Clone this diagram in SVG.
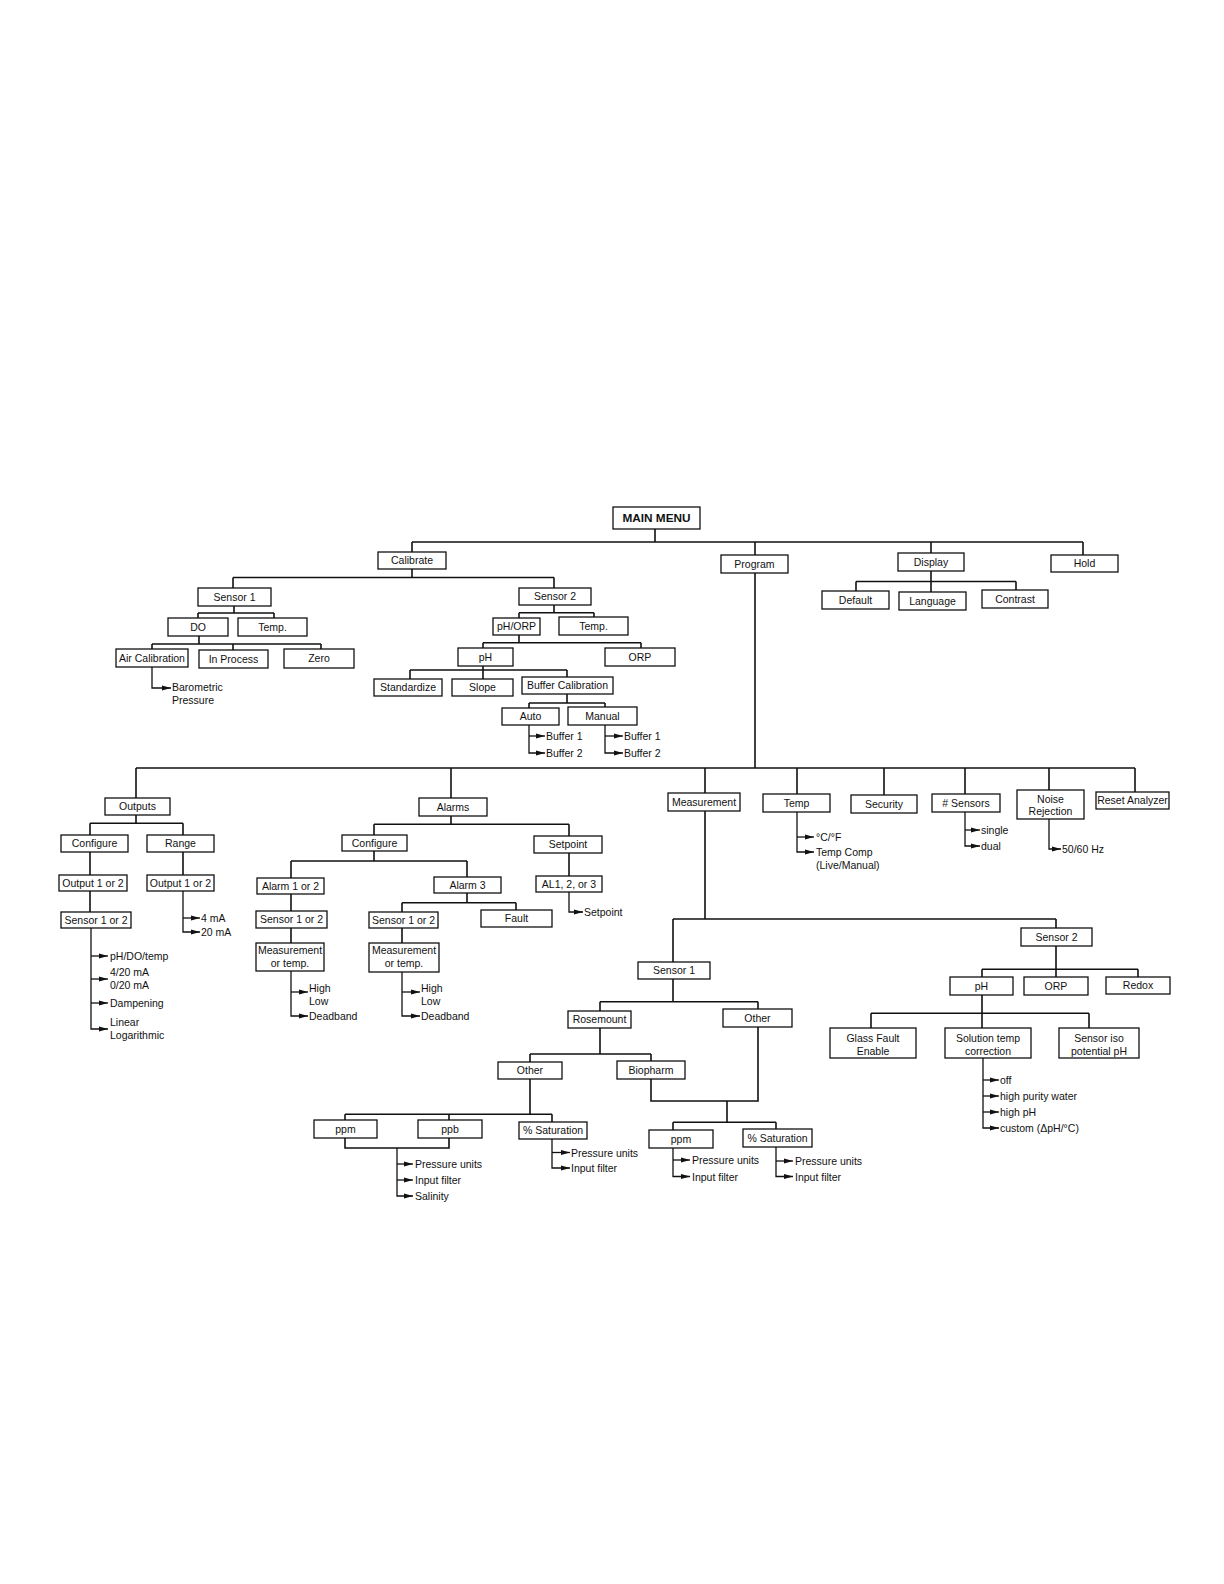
<svg xmlns="http://www.w3.org/2000/svg" width="1224" height="1584" viewBox="0 0 1224 1584">
<style>
.b{fill:#fff;stroke:#111;stroke-width:1.3}
.t{font-family:"Liberation Sans",Arial,sans-serif;font-size:10.5px;fill:#111;text-anchor:middle}
.l{font-family:"Liberation Sans",Arial,sans-serif;font-size:10.5px;fill:#111;text-anchor:start}
.c{fill:none;stroke:#111;stroke-width:1.6}
.a{fill:none;stroke:#111;stroke-width:1.3;marker-end:url(#ah)}
</style>
<defs>
<marker id="ah" markerWidth="9" markerHeight="6" refX="9" refY="3" orient="auto" markerUnits="userSpaceOnUse"><path d="M0,0.6 L9,3 L0,5.4 z" fill="#111"/></marker>
</defs>
<rect width="1224" height="1584" fill="#fff"/>
<g id="connectors">
<path class="c" d="M655,529V542M412,542H1083M412,542V552M755,542V555M931,542V553M1083,542V555"/>
<path class="c" d="M931,571V581.5M856,581.5H1016M856,581.5V591M931,581.5V592M1016,581.5V590"/>
<path class="c" d="M412,569V577.5M233,577.5H554M233,577.5V588M554,577.5V588"/>
<path class="c" d="M234,606V613M198,613H274M198,613V618M274,613V618"/>
<path class="c" d="M199,636V644M152,644H321M152,644V649M233,644V650M321,644V649"/>
<path class="a" d="M152,667V688H171"/>
<path class="c" d="M554,605V612.7M519,612.7H594M519,612.7V618M594,612.7V617"/>
<path class="c" d="M519,635V642.7M483,642.7H641M483,642.7V648M641,642.7V648"/>
<path class="c" d="M483,666V670M410,670H567M410,670V679M483,670V679M567,670V677"/>
<path class="c" d="M567,694V703M529,703H605M529,703V708M605,703V707"/>
<path class="a" d="M529,725V753H545"/><path class="a" d="M529,736H545"/>
<path class="a" d="M605,725V753H623"/><path class="a" d="M605,736H623"/>
<path class="c" d="M755,573V768M136,768H1135M136,768V798M451,768V798M705,768V793M797,768V794M884,768V795M965,768V794M1049,768V791M1135,768V792"/>
<path class="c" d="M136,815V823.3M90,823.3H183M90,823.3V835M183,823.3V835M90,852V875M183,852V875M90,891V912"/>
<path class="a" d="M183,891V932H200"/><path class="a" d="M183,918H200"/>
<path class="a" d="M91,928V1029H108"/><path class="a" d="M91,956H108"/><path class="a" d="M91,979H108"/><path class="a" d="M91,1003H108"/>
<path class="c" d="M451,816V824.3M374,824.3H569M374,824.3V835M569,824.3V836"/>
<path class="c" d="M374,851V861M291,861H467M291,861V878M467,861V877M291,894V911M291,928V943"/>
<path class="a" d="M291,971V1016H308"/><path class="a" d="M291,992H308"/>
<path class="c" d="M467,893V902.7M402,902.7H516M402,902.7V912M516,902.7V910M402,928V943"/>
<path class="a" d="M402,972V1016H420"/><path class="a" d="M402,992H420"/>
<path class="c" d="M569,853V876"/>
<path class="a" d="M569,892V912H583"/>
<path class="a" d="M797,812V852H814"/><path class="a" d="M797,837H814"/>
<path class="a" d="M965,812V846H980"/><path class="a" d="M965,830H980"/>
<path class="a" d="M1049,819V849H1061"/>
<path class="c" d="M705,811V919M673,919H1056M673,919V962M1056,919V928"/>
<path class="c" d="M673,979V1001.7M600,1001.7H758M600,1001.7V1011M758,1001.7V1009"/>
<path class="c" d="M600,1028V1054M530,1054H651M530,1054V1062M651,1054V1061"/>
<path class="c" d="M651,1079V1101H758V1027M727,1101V1122.3M673,1122.3H776M673,1122.3V1130M776,1122.3V1129"/>
<path class="c" d="M530,1079V1114.3M345,1114.3H552M345,1114.3V1120M449,1114.3V1120M552,1114.3V1122"/>
<path class="c" d="M345,1138V1148H449V1138"/>
<path class="a" d="M397,1148V1196H413"/><path class="a" d="M397,1164H413"/><path class="a" d="M397,1180H413"/>
<path class="a" d="M552,1139V1168H570"/><path class="a" d="M552,1152.5H570"/>
<path class="a" d="M673,1148V1176.5H690"/><path class="a" d="M673,1160H690"/>
<path class="a" d="M776,1147V1176.5H793"/><path class="a" d="M776,1161H793"/>
<path class="c" d="M1056,946V969.3M982,969.3H1138M982,969.3V977M1056,969.3V977M1138,969.3V977"/>
<path class="c" d="M982,995V1013.3M871,1013.3H1089M871,1013.3V1028M982,1013.3V1028M1089,1013.3V1028"/>
<path class="a" d="M983,1058V1128H999"/><path class="a" d="M983,1080H999"/><path class="a" d="M983,1096H999"/><path class="a" d="M983,1112H999"/>
</g>
<g id="labels">
<text class="l" x="172" y="691">Barometric</text><text class="l" x="172" y="704">Pressure</text>
<text class="l" x="546" y="740">Buffer 1</text><text class="l" x="546" y="757">Buffer 2</text>
<text class="l" x="624" y="740">Buffer 1</text><text class="l" x="624" y="757">Buffer 2</text>
<text class="l" x="201" y="922">4 mA</text><text class="l" x="201" y="936">20 mA</text>
<text class="l" x="110" y="960">pH/DO/temp</text><text class="l" x="110" y="975.5">4/20 mA</text><text class="l" x="110" y="988.5">0/20 mA</text>
<text class="l" x="110" y="1007">Dampening</text><text class="l" x="110" y="1025.5">Linear</text><text class="l" x="110" y="1038.5">Logarithmic</text>
<text class="l" x="309" y="991.5">High</text><text class="l" x="309" y="1004.5">Low</text><text class="l" x="309" y="1020">Deadband</text>
<text class="l" x="421" y="991.5">High</text><text class="l" x="421" y="1004.5">Low</text><text class="l" x="421" y="1020">Deadband</text>
<text class="l" x="584" y="916">Setpoint</text>
<text class="l" x="816" y="841">°C/°F</text><text class="l" x="816" y="856">Temp Comp</text><text class="l" x="816" y="869">(Live/Manual)</text>
<text class="l" x="981" y="834">single</text><text class="l" x="981" y="850">dual</text>
<text class="l" x="1062" y="853">50/60 Hz</text>
<text class="l" x="415" y="1168">Pressure units</text><text class="l" x="415" y="1184">Input filter</text><text class="l" x="415" y="1200">Salinity</text>
<text class="l" x="571" y="1156.5">Pressure units</text><text class="l" x="571" y="1172">Input filter</text>
<text class="l" x="692" y="1164">Pressure units</text><text class="l" x="692" y="1180.5">Input filter</text>
<text class="l" x="795" y="1165">Pressure units</text><text class="l" x="795" y="1180.5">Input filter</text>
<text class="l" x="1000" y="1084">off</text><text class="l" x="1000" y="1100">high purity water</text><text class="l" x="1000" y="1116">high pH</text><text class="l" x="1000" y="1132">custom (ΔpH/°C)</text>
</g>
<g id="main-menu"><rect class="b" x="613" y="507" width="87" height="22"/><text class="t" x="656.5" y="522.3" style="font-weight:bold;font-size:11.8px">MAIN MENU</text></g>
<g id="calibrate"><rect class="b" x="378" y="552" width="68" height="17"/><text class="t" x="412" y="564.3">Calibrate</text></g>
<g id="program"><rect class="b" x="721" y="555" width="67" height="18"/><text class="t" x="754.5" y="567.8">Program</text></g>
<g id="display"><rect class="b" x="898" y="553" width="66" height="18"/><text class="t" x="931" y="565.8">Display</text></g>
<g id="hold"><rect class="b" x="1051" y="555" width="67" height="17"/><text class="t" x="1084.5" y="567.3">Hold</text></g>
<g id="default"><rect class="b" x="822" y="591" width="67" height="18"/><text class="t" x="855.5" y="603.8">Default</text></g>
<g id="language"><rect class="b" x="899" y="592" width="67" height="18"/><text class="t" x="932.5" y="604.8">Language</text></g>
<g id="contrast"><rect class="b" x="982" y="590" width="66" height="18"/><text class="t" x="1015" y="602.8">Contrast</text></g>
<g id="cal-sensor1"><rect class="b" x="198" y="588" width="73" height="18"/><text class="t" x="234.5" y="600.8">Sensor 1</text></g>
<g id="cal-sensor2"><rect class="b" x="519" y="588" width="72" height="17"/><text class="t" x="555" y="600.3">Sensor 2</text></g>
<g id="do"><rect class="b" x="168" y="618" width="60" height="18"/><text class="t" x="198" y="630.8">DO</text></g>
<g id="temp1"><rect class="b" x="238" y="618" width="69" height="18"/><text class="t" x="272.5" y="630.8">Temp.</text></g>
<g id="air-cal"><rect class="b" x="116" y="649" width="72" height="18"/><text class="t" x="152" y="661.8">Air Calibration</text></g>
<g id="in-process"><rect class="b" x="199" y="650" width="69" height="18"/><text class="t" x="233.5" y="662.8">In Process</text></g>
<g id="zero"><rect class="b" x="284" y="649" width="70" height="19"/><text class="t" x="319" y="662.3">Zero</text></g>
<g id="ph-orp"><rect class="b" x="493" y="618" width="47" height="17"/><text class="t" x="516.5" y="630.3">pH/ORP</text></g>
<g id="temp2"><rect class="b" x="559" y="617" width="69" height="18"/><text class="t" x="593.5" y="629.8">Temp.</text></g>
<g id="cal-ph"><rect class="b" x="458" y="648" width="55" height="18"/><text class="t" x="485.5" y="660.8">pH</text></g>
<g id="cal-orp"><rect class="b" x="605" y="648" width="70" height="18"/><text class="t" x="640" y="660.8">ORP</text></g>
<g id="standardize"><rect class="b" x="374" y="679" width="68" height="17"/><text class="t" x="408" y="691.3">Standardize</text></g>
<g id="slope"><rect class="b" x="452" y="679" width="61" height="17"/><text class="t" x="482.5" y="691.3">Slope</text></g>
<g id="buffer-cal"><rect class="b" x="522" y="677" width="91" height="17"/><text class="t" x="567.5" y="689.3">Buffer Calibration</text></g>
<g id="auto"><rect class="b" x="502" y="708" width="57" height="17"/><text class="t" x="530.5" y="720.3">Auto</text></g>
<g id="manual"><rect class="b" x="568" y="707" width="69" height="18"/><text class="t" x="602.5" y="719.8">Manual</text></g>
<g id="outputs"><rect class="b" x="105" y="798" width="65" height="17"/><text class="t" x="137.5" y="810.3">Outputs</text></g>
<g id="out-configure"><rect class="b" x="61" y="835" width="67" height="17"/><text class="t" x="94.5" y="847.3">Configure</text></g>
<g id="range"><rect class="b" x="147" y="835" width="67" height="17"/><text class="t" x="180.5" y="847.3">Range</text></g>
<g id="output-a"><rect class="b" x="59" y="875" width="68" height="16"/><text class="t" x="93" y="886.8">Output 1 or 2</text></g>
<g id="output-b"><rect class="b" x="147" y="875" width="67" height="16"/><text class="t" x="180.5" y="886.8">Output 1 or 2</text></g>
<g id="out-sensor"><rect class="b" x="61" y="912" width="70" height="16"/><text class="t" x="96" y="923.8">Sensor 1 or 2</text></g>
<g id="alarms"><rect class="b" x="419" y="798" width="68" height="18"/><text class="t" x="453" y="810.8">Alarms</text></g>
<g id="al-configure"><rect class="b" x="342" y="835" width="65" height="16"/><text class="t" x="374.5" y="846.8">Configure</text></g>
<g id="setpoint"><rect class="b" x="534" y="836" width="68" height="17"/><text class="t" x="568" y="848.3">Setpoint</text></g>
<g id="alarm12"><rect class="b" x="257" y="878" width="67" height="16"/><text class="t" x="290.5" y="889.8">Alarm 1 or 2</text></g>
<g id="alarm3"><rect class="b" x="434" y="877" width="67" height="16"/><text class="t" x="467.5" y="888.8">Alarm 3</text></g>
<g id="al-sensor-a"><rect class="b" x="256" y="911" width="71" height="17"/><text class="t" x="291.5" y="923.3">Sensor 1 or 2</text></g>
<g id="al-sensor-b"><rect class="b" x="369" y="912" width="69" height="16"/><text class="t" x="403.5" y="923.8">Sensor 1 or 2</text></g>
<g id="fault"><rect class="b" x="481" y="910" width="71" height="17"/><text class="t" x="516.5" y="922.3">Fault</text></g>
<g id="meas-a"><rect class="b" x="256" y="943" width="68" height="28"/><text class="t" x="290" y="953.7">Measurement</text><text class="t" x="290" y="966.7">or temp.</text></g>
<g id="meas-b"><rect class="b" x="369" y="943" width="70" height="29"/><text class="t" x="404" y="953.7">Measurement</text><text class="t" x="404" y="967">or temp.</text></g>
<g id="al123"><rect class="b" x="536" y="876" width="66" height="16"/><text class="t" x="569" y="887.8">AL1, 2, or 3</text></g>
<g id="measurement"><rect class="b" x="668" y="793" width="72" height="18"/><text class="t" x="704" y="805.8">Measurement</text></g>
<g id="temp"><rect class="b" x="763" y="794" width="67" height="18"/><text class="t" x="796.5" y="806.8">Temp</text></g>
<g id="security"><rect class="b" x="851" y="795" width="66" height="18"/><text class="t" x="884" y="807.8">Security</text></g>
<g id="num-sensors"><rect class="b" x="932" y="794" width="68" height="18"/><text class="t" x="966" y="806.8"># Sensors</text></g>
<g id="noise"><rect class="b" x="1017" y="790" width="67" height="29"/><text class="t" x="1050.5" y="802.5">Noise</text><text class="t" x="1050.5" y="815">Rejection</text></g>
<g id="reset"><rect class="b" x="1096" y="792" width="73" height="17"/><text class="t" x="1132.5" y="804.3">Reset Analyzer</text></g>
<g id="m-sensor1"><rect class="b" x="638" y="962" width="72" height="17"/><text class="t" x="674" y="974.3">Sensor 1</text></g>
<g id="m-sensor2"><rect class="b" x="1021" y="928" width="71" height="18"/><text class="t" x="1056.5" y="940.8">Sensor 2</text></g>
<g id="rosemount"><rect class="b" x="568" y="1011" width="63" height="17"/><text class="t" x="599.5" y="1023.3">Rosemount</text></g>
<g id="other-r"><rect class="b" x="723" y="1009" width="69" height="18"/><text class="t" x="757.5" y="1021.8">Other</text></g>
<g id="other-l"><rect class="b" x="498" y="1062" width="64" height="17"/><text class="t" x="530" y="1074.3">Other</text></g>
<g id="biopharm"><rect class="b" x="617" y="1061" width="68" height="18"/><text class="t" x="651" y="1073.8">Biopharm</text></g>
<g id="ppm-l"><rect class="b" x="314" y="1120" width="63" height="18"/><text class="t" x="345.5" y="1132.8">ppm</text></g>
<g id="ppb"><rect class="b" x="418" y="1120" width="64" height="18"/><text class="t" x="450" y="1132.8">ppb</text></g>
<g id="sat-l"><rect class="b" x="519" y="1122" width="68" height="17"/><text class="t" x="553" y="1134.3">% Saturation</text></g>
<g id="ppm-r"><rect class="b" x="649" y="1130" width="64" height="18"/><text class="t" x="681" y="1142.8">ppm</text></g>
<g id="sat-r"><rect class="b" x="743" y="1129" width="69" height="18"/><text class="t" x="777.5" y="1141.8">% Saturation</text></g>
<g id="s2-ph"><rect class="b" x="950" y="977" width="63" height="18"/><text class="t" x="981.5" y="989.8">pH</text></g>
<g id="s2-orp"><rect class="b" x="1024" y="977" width="64" height="18"/><text class="t" x="1056" y="989.8">ORP</text></g>
<g id="redox"><rect class="b" x="1106" y="977" width="64" height="17"/><text class="t" x="1138" y="989.3">Redox</text></g>
<g id="glass-fault"><rect class="b" x="830" y="1028" width="86" height="30"/><text class="t" x="873" y="1041.5">Glass Fault</text><text class="t" x="873" y="1054.5">Enable</text></g>
<g id="sol-temp"><rect class="b" x="945" y="1028" width="86" height="30"/><text class="t" x="988" y="1041.5">Solution temp</text><text class="t" x="988" y="1054.5">correction</text></g>
<g id="iso-ph"><rect class="b" x="1059" y="1028" width="80" height="30"/><text class="t" x="1099" y="1041.5">Sensor iso</text><text class="t" x="1099" y="1054.5">potential pH</text></g>
</svg>
